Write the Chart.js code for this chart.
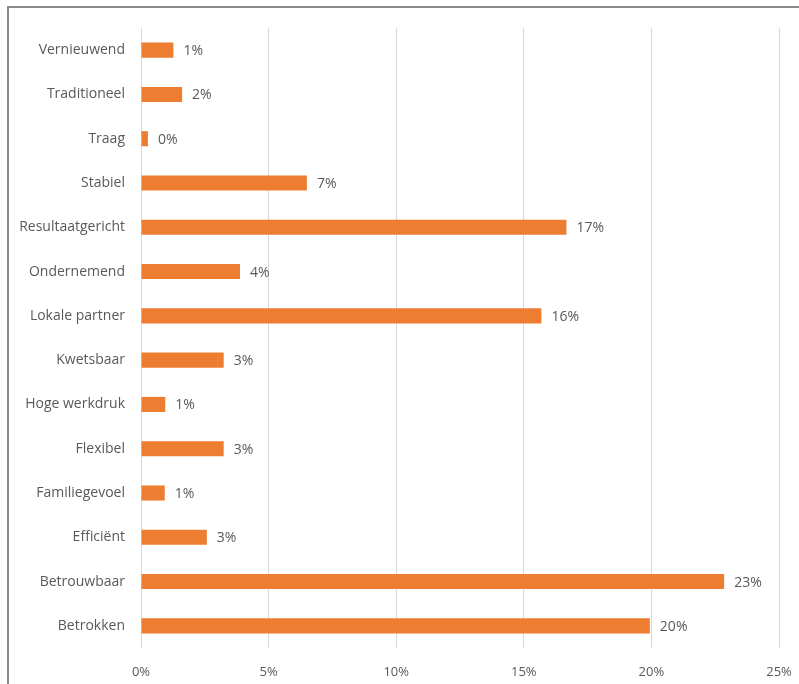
<!DOCTYPE html>
<html>
<head>
<meta charset="utf-8">
<script src="https://cdn.jsdelivr.net/npm/chart.js@4"></script>
<style>
  html, body { margin: 0; padding: 0; background: #fff; overflow: hidden; }
  #frame {
    position: absolute; left: 7px; top: 6px; width: 820px; height: 720px;
    border-left: 2px solid #8a8a8a; border-top: 2px solid #8a8a8a;
  }
  #wrap { position: absolute; left: 0; top: 0; width: 799px; height: 684px; }
</style>
</head>
<body>
<div id="frame"></div>
<div id="wrap"><canvas id="chart"></canvas></div>
<script>
const categories = ['Vernieuwend', 'Traditioneel', 'Traag', 'Stabiel', 'Resultaatgericht', 'Ondernemend',
  'Lokale partner', 'Kwetsbaar', 'Hoge werkdruk', 'Flexibel', 'Familiegevoel', 'Efficiënt',
  'Betrouwbaar', 'Betrokken'];
const shares = [1.27, 1.61, 0.27, 6.5, 16.67, 3.88, 15.69, 3.24, 0.95, 3.24, 0.93, 2.58, 22.85, 19.94];
const xTicks = [0, 5, 10, 15, 20, 25];

const valueLabels = {
  id: 'valueLabels',
  afterDatasetsDraw(chart) {
    const ctx = chart.ctx;
    const meta = chart.getDatasetMeta(0);
    ctx.save();
    ctx.font = '14px "Open Sans"';
    ctx.fillStyle = '#595959';
    ctx.textAlign = 'left';
    ctx.textBaseline = 'middle';
    meta.data.forEach((bar, i) => {
      ctx.fillText(Math.round(shares[i]) + '%', bar.x + 10, bar.y + 1);
    });
    ctx.restore();
  }
};

new Chart(document.getElementById('chart'), {
  type: 'bar',
  data: {
    labels: categories,
    datasets: [{
      data: shares,
      backgroundColor: '#ED7D31',
      borderWidth: 0,
      categoryPercentage: 1,
      barPercentage: 0.34
    }]
  },
  options: {
    indexAxis: 'y',
    responsive: true,
    maintainAspectRatio: false,
    animation: false,
    layout: { padding: { left: 0, right: 20, top: 28, bottom: 0 } },
    plugins: { legend: { display: false }, tooltip: { enabled: false } },
    scales: {
      x: {
        min: 0, max: 25,
        afterBuildTicks(axis) { axis.ticks = xTicks.map(v => ({ value: v })); },
        afterFit(axis) { axis.height = 36; axis.paddingRight = 0; },
        grid: { color: '#d9d9d9', lineWidth: 1, drawTicks: false },
        border: { display: false },
        ticks: {
          padding: 16,
          color: '#595959',
          font: { family: 'Open Sans', size: 13 },
          callback: v => v + '%'
        }
      },
      y: {
        afterFit(axis) { axis.width = 141; },
        grid: { display: false, drawTicks: false },
        border: { display: false },
        ticks: {
          padding: 16,
          color: '#595959',
          font: { family: 'Open Sans', size: 14 }
        }
      }
    }
  },
  plugins: [valueLabels]
});
</script>
</body>
</html>
